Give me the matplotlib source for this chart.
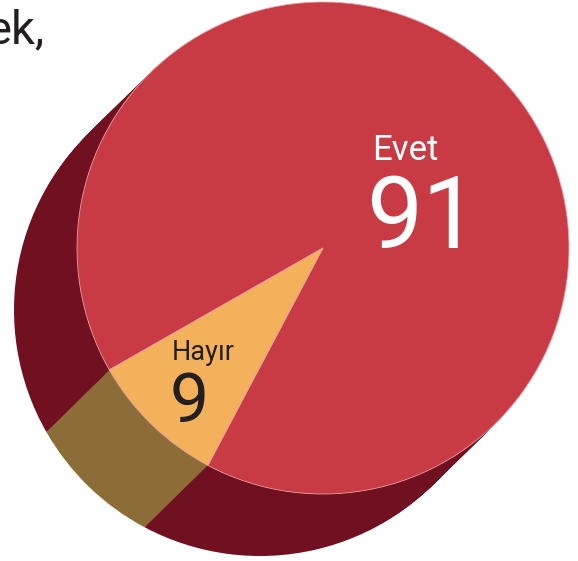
import matplotlib.pyplot as plt

labels = ['Evet', 'Hayır']
values = [91, 9]

top_colors = ['#c83a44', '#f3b15b']
side_colors = ['#701020', '#8c6d38']

W, H = 578, 561
fig = plt.figure(figsize=(W / 100, H / 100), dpi=100)
ax = fig.add_axes([0, 0, 1, 1])

cx, cy, r = 323, 313, 246
dx, dy = -63, -62
start = 242.1

# extrusion: many shifted copies of the pie
steps = 60
for i in range(steps, 0, -1):
    f = i / steps
    ax.pie(values, center=(cx + dx * f, cy + dy * f), radius=r,
           startangle=start, colors=side_colors,
           wedgeprops=dict(linewidth=0))

ax.pie(values, center=(cx, cy), radius=r, startangle=start,
       colors=top_colors, wedgeprops=dict(linewidth=0.6, edgecolor='#e8a0a4'))

ax.text(372, 401, labels[0], color='white', fontsize=25,
        family='Roboto', ha='left', va='baseline')
ax.text(366, 313, str(values[0]), color='white', fontsize=72,
        family='Roboto', ha='left', va='baseline')
ax.text(172, 201, labels[1], color='#231f20', fontsize=19.5,
        family='Roboto', ha='left', va='baseline')
ax.text(170, 139, str(values[1]), color='#231f20', fontsize=50,
        family='Roboto', ha='left', va='baseline')

ax.text(45, 518, 'ek,', color='#231f20', fontsize=34,
        family='Roboto', ha='right', va='baseline')

ax.set_xlim(0, W)
ax.set_ylim(0, H)
ax.set_aspect('equal')
ax.axis('off')

plt.savefig('out.png', dpi=100)
